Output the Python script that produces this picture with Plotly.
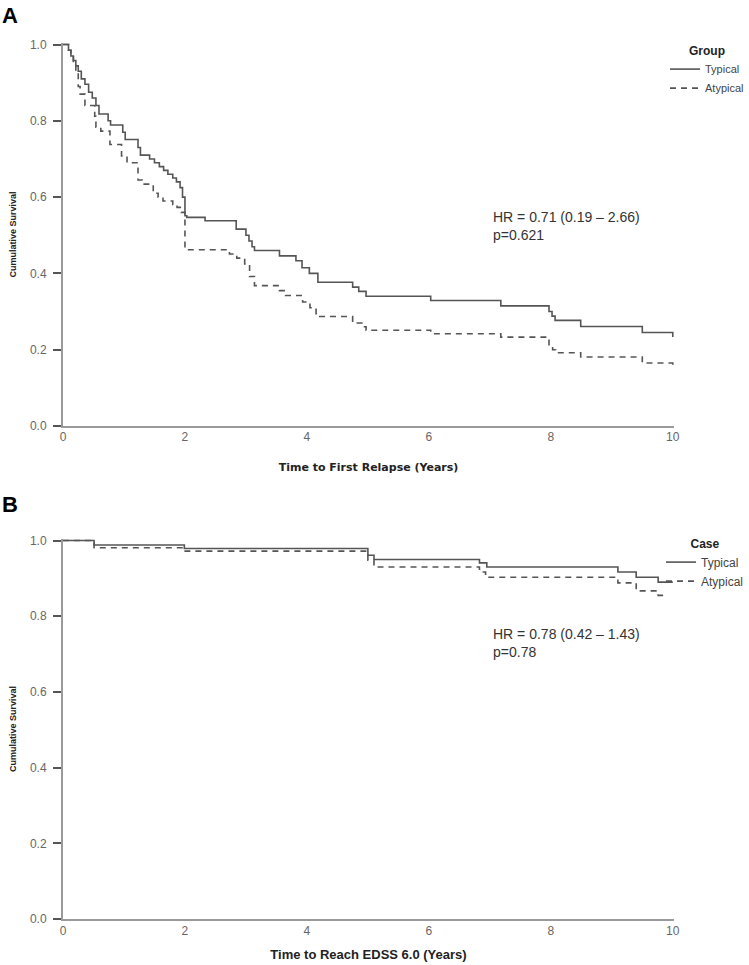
import plotly.graph_objects as go

# Panel A: time to first relapse (years) / cumulative survival, step events
typ_a_t = [0, 0.09, 0.13, 0.17, 0.21, 0.25, 0.30, 0.36, 0.42, 0.48, 0.54, 0.59, 0.74, 0.78, 0.98,
           1.02, 1.23, 1.27, 1.42, 1.50, 1.58, 1.65, 1.72, 1.80, 1.86, 1.92, 1.96, 2.00, 2.03, 2.33,
           2.84, 3.00, 3.05, 3.10, 3.14, 3.55, 3.82, 3.92, 4.04, 4.18, 4.75, 4.85, 4.97, 6.03, 7.18,
           7.97, 8.02, 8.07, 8.49, 9.50, 10.0]
typ_a_s = [1.0, 0.985, 0.97, 0.958, 0.944, 0.93, 0.91, 0.896, 0.875, 0.86, 0.84, 0.818, 0.80, 0.789, 0.77,
           0.751, 0.73, 0.710, 0.70, 0.69, 0.68, 0.67, 0.66, 0.65, 0.64, 0.625, 0.60, 0.551, 0.547, 0.538,
           0.516, 0.50, 0.485, 0.47, 0.46, 0.446, 0.433, 0.415, 0.40, 0.377, 0.364, 0.353, 0.340, 0.329, 0.315,
           0.30, 0.288, 0.277, 0.261, 0.245, 0.233]

aty_a_t = [0, 0.09, 0.13, 0.17, 0.21, 0.25, 0.28, 0.36, 0.52, 0.54, 0.62, 0.77, 0.96, 1.05, 1.23,
           1.30, 1.48, 1.56, 1.64, 1.80, 1.87, 1.94, 2.00, 2.73, 2.85, 2.98, 3.06, 3.14, 3.55, 3.65,
           3.93, 4.05, 4.15, 4.75, 4.90, 4.97, 6.03, 7.18, 7.97, 8.03, 8.08, 8.49, 9.50, 10.0]
aty_a_s = [1.0, 0.985, 0.97, 0.95, 0.93, 0.89, 0.87, 0.84, 0.812, 0.783, 0.773, 0.738, 0.708, 0.69, 0.645,
           0.634, 0.61, 0.60, 0.59, 0.58, 0.573, 0.56, 0.462, 0.451, 0.44, 0.425, 0.392, 0.368, 0.355, 0.342,
           0.325, 0.31, 0.287, 0.27, 0.26, 0.251, 0.242, 0.233, 0.21, 0.20, 0.192, 0.181, 0.165, 0.152]

# Panel B: time to reach EDSS 6.0 (years)
typ_b_t = [0, 0.51, 1.99, 5.0, 5.1, 6.83, 6.95, 9.1, 9.4, 9.76, 10.0]
typ_b_s = [1.0, 0.988, 0.979, 0.961, 0.95, 0.941, 0.930, 0.917, 0.903, 0.89, 0.89]
aty_b_t = [0, 0.51, 1.99, 5.0, 5.1, 6.83, 6.93, 9.1, 9.4, 9.76, 9.87]
aty_b_s = [1.0, 0.981, 0.972, 0.948, 0.930, 0.917, 0.903, 0.888, 0.867, 0.855, 0.855]

groups = ['Typical', 'Atypical']
hr_a = "HR = 0.71 (0.19 \u2013 2.66)<br>p=0.621"
hr_b = "HR = 0.78 (0.42 \u2013 1.43)<br>p=0.78"
y_ticks = [0.0, 0.2, 0.4, 0.6, 0.8, 1.0]
x_ticks = [0, 2, 4, 6, 8, 10]

W, H = 749, 965
LINE = '#555555'
AXIS = '#9a9a9a'
FONT = 'Liberation Sans, Arial, sans-serif'
BOLD = 'DejaVu Sans, Verdana, sans-serif'
NARROW = 'Liberation Sans Narrow, Liberation Sans, Arial, sans-serif'


def py(px):
    """pixel row -> paper y"""
    return 1 - px / H


fig = go.Figure()
series = [
    (typ_a_t, typ_a_s, groups[0], 'solid', 'x', 'y', 'legend'),
    (aty_a_t, aty_a_s, groups[1], '6px,5px', 'x', 'y', 'legend'),
    (typ_b_t, typ_b_s, groups[0], 'solid', 'x2', 'y2', 'legend2'),
    (aty_b_t, aty_b_s, groups[1], '6px,5px', 'x2', 'y2', 'legend2'),
]
for t, s, name, dash, xa, ya, lg in series:
    fig.add_trace(go.Scatter(
        x=t, y=s, name=name, mode='lines', line_shape='hv',
        line=dict(color=LINE, width=1.6, dash=dash),
        xaxis=xa, yaxis=ya, legend=lg, hoverinfo='skip'
    ))

xdom = [63 / W, 674 / W]
common_x = dict(range=[0, 10.02], tickvals=x_ticks, showgrid=False, zeroline=False, automargin=False,
                showline=True, linecolor=AXIS, linewidth=2, ticks='')
common_y = dict(range=[0, 1.004], tickvals=y_ticks, tickformat='.1f', showgrid=False, zeroline=False,
                showline=True, linecolor=AXIS, linewidth=2, ticks='outside', ticklen=8, automargin=False,
                tickcolor='#555555', tickwidth=1.5, ticklabelstandoff=4)

fig.update_layout(
    width=W, height=H,
    margin=dict(l=0, r=0, t=0, b=0, autoexpand=False),
    plot_bgcolor='white', paper_bgcolor='white',
    xaxis=dict(common_x, domain=xdom, anchor='y', ticklabelstandoff=-1,
               tickfont=dict(family=FONT, size=12, color='#666666'),
               title=dict(text='<b>Time to First Relapse (Years)</b>', standoff=20,
                          font=dict(family=BOLD, size=11, color='#222222'))),
    yaxis=dict(common_y, domain=[py(426), py(43)], anchor='x',
               tickfont=dict(family=FONT, size=12, color='#666666'),
               title=dict(text='<b>Cumulative Survival</b>', standoff=12,
                          font=dict(family=FONT, size=9, color='#222222'))),
    xaxis2=dict(common_x, domain=xdom, anchor='y2',
                tickfont=dict(family=NARROW, size=12, color='#666666'),
                title=dict(text='<b>Time to Reach EDSS 6.0 (Years)</b>', standoff=12,
                           font=dict(family=NARROW, size=13, color='#222222'))),
    yaxis2=dict(common_y, domain=[py(919), py(539)], anchor='x2',
                tickfont=dict(family=NARROW, size=12, color='#666666'),
                title=dict(text='<b>Cumulative Survival</b>', standoff=12,
                           font=dict(family=NARROW, size=9, color='#222222'))),
    legend=dict(x=1.0, xanchor='right', y=py(39), yanchor='top', itemwidth=30,
                bgcolor='rgba(0,0,0,0)', tracegroupgap=0,
                font=dict(family=FONT, size=11, color='#444444'),
                title=dict(text='<b>Group</b>', side='top center',
                           font=dict(family=FONT, size=12, color='#222222'))),
    legend2=dict(x=1.0, xanchor='right', y=py(532), yanchor='top', itemwidth=30,
                 bgcolor='rgba(0,0,0,0)', tracegroupgap=0,
                 font=dict(family=NARROW, size=12, color='#444444'),
                 title=dict(text='<b>Case</b>', side='top center',
                            font=dict(family=NARROW, size=12, color='#222222'))),
    showlegend=True,
)

fig.add_annotation(text=hr_a, xref='x', yref='y', x=7.02, y=0.525, xanchor='left', yanchor='middle',
                   align='left', showarrow=False, font=dict(family=FONT, size=14, color='#333333'))
fig.add_annotation(text=hr_b, xref='x2', yref='y2', x=7.02, y=0.73, xanchor='left', yanchor='middle',
                   align='left', showarrow=False, font=dict(family=FONT, size=14, color='#333333'))
fig.add_annotation(text='<b>A</b>', xref='paper', yref='paper', x=0.0, y=py(1), xanchor='left',
                   yanchor='top', showarrow=False, font=dict(family=FONT, size=22, color='black'))
fig.add_annotation(text='<b>B</b>', xref='paper', yref='paper', x=0.0, y=py(490), xanchor='left',
                   yanchor='top', showarrow=False, font=dict(family=FONT, size=22, color='black'))

# the page body has a default 8px margin; drop it so the figure fills the window
fig.write_html("out.html", config={'displayModeBar': False},
               post_script="document.body.style.margin='0px';")
